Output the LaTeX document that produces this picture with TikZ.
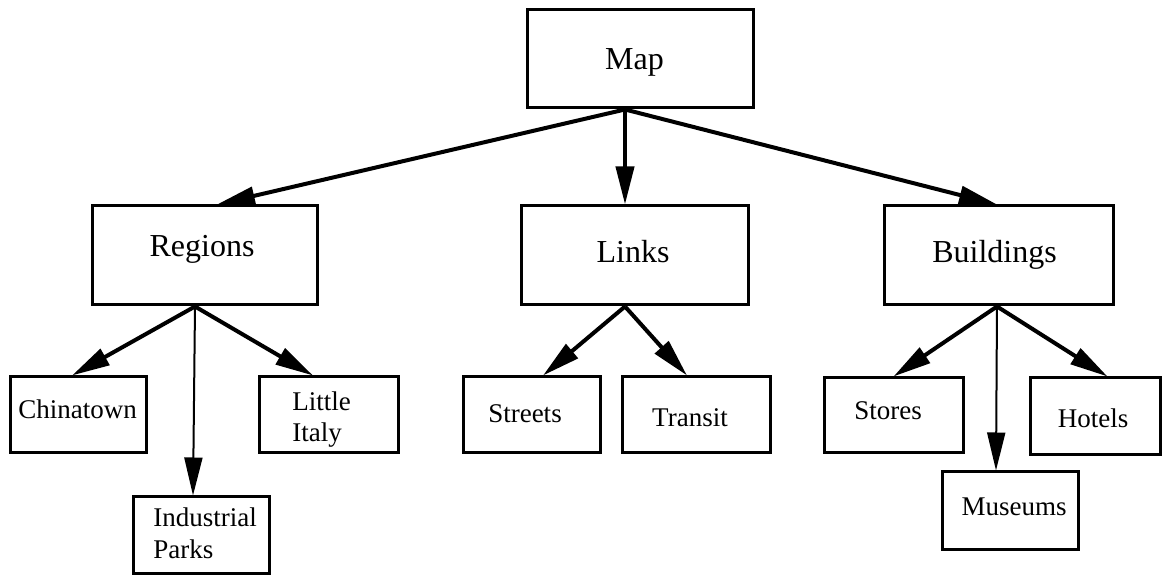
\documentclass[tikz,border=0pt]{standalone}
\usepackage{fontspec}
\setmainfont{Liberation Serif}
\usetikzlibrary{arrows.meta,fit,calc}
\begin{document}
\begin{tikzpicture}[x=0.5pt,y=-0.5pt,
  box/.style={draw,line width=1.5pt,inner sep=0pt,rectangle},
  big/.style={font=\fontsize{16}{19}\selectfont,inner sep=0pt,anchor=base},
  small/.style={font=\fontsize{13.5}{16}\selectfont,inner sep=0pt,anchor=base},
  leftsmall/.style={small,anchor=base west},
  link/.style={line width=2pt,-{Triangle[length=19pt,width=9pt]}},
  thinlink/.style={link,line width=1pt}]
\useasboundingbox (0,0) rectangle (1162,576);

% boxes
\node[box,fit={(527,10)(753,108)}] (map) {};
\node[box,fit={(92,206)(317,305)}] (regions) {};
\node[box,fit={(521,206)(748,305)}] (links) {};
\node[box,fit={(884,206)(1113,305)}] (buildings) {};
\node[box,fit={(10,377)(146,453)}] (chinatown) {};
\node[box,fit={(133,497)(269,574)}] (industrial) {};
\node[box,fit={(259,377)(398,453)}] (italy) {};
\node[box,fit={(463,377)(600,453)}] (streets) {};
\node[box,fit={(622,377)(770,453)}] (transit) {};
\node[box,fit={(824,378)(963,453)}] (stores) {};
\node[box,fit={(942,472)(1078,550)}] (museums) {};
\node[box,fit={(1030,378)(1160,455)}] (hotels) {};

% labels
\node[big] (mapt) at (634.5,70) {Map};
\node[big] (regionst) at (202,257) {Regions};
\node[big] (linkst) at (633,263) {Links};
\node[big] (buildingst) at (994.5,263) {Buildings};
\node[small] (chinatownt) at (77.5,419) {Chinatown};
\node[leftsmall] (italyt1) at (292,411) {Little};
\node[leftsmall] (italyt2) at (292,442) {Italy};
\node[leftsmall] (industrialt1) at (153,527) {Industrial};
\node[leftsmall] (industrialt2) at (153,559) {Parks};
\node[small] (streetst) at (525,423) {Streets};
\node[small] (transitt) at (690,427) {Transit};
\node[small] (storest) at (888,420) {Stores};
\node[small] (hotelst) at (1093,428) {Hotels};
\node[small] (museumst) at (1014,516) {Museums};

% connectors
\coordinate (mapout) at ($(map.south)+(-15,0)$);
\draw[link] (mapout) -- ($(regions.north)+(12.5,0)$);
\draw[link] (mapout) -- ($(links.north)+(-9.5,0)$);
\draw[link] (mapout) -- ($(buildings.north)+(-1.5,0)$);

\coordinate (regout) at ($(regions.south)+(-9.5,0)$);
\draw[link] (regout) -- ($(chinatown.north)+(-6,0)$);
\draw[thinlink] (regout) -- ($(industrial.north)+(-8,0)$);
\draw[link] (regout) -- ($(italy.north)+(-15.5,0)$);

\coordinate (linkout) at ($(links.south)+(-9.5,0)$);
\draw[link] (linkout) -- ($(streets.north)+(11.5,0)$);
\draw[link] (linkout) -- ($(transit.north)+(-9,0)$);

\coordinate (bldout) at ($(buildings.south)+(-1.5,0)$);
\draw[link] (bldout) -- (stores.north);
\draw[thinlink] (bldout) -- ($(museums.north)+(-14,0)$);
\draw[link] (bldout) -- ($(hotels.north)+(12.5,0)$);
\end{tikzpicture}
\end{document}
